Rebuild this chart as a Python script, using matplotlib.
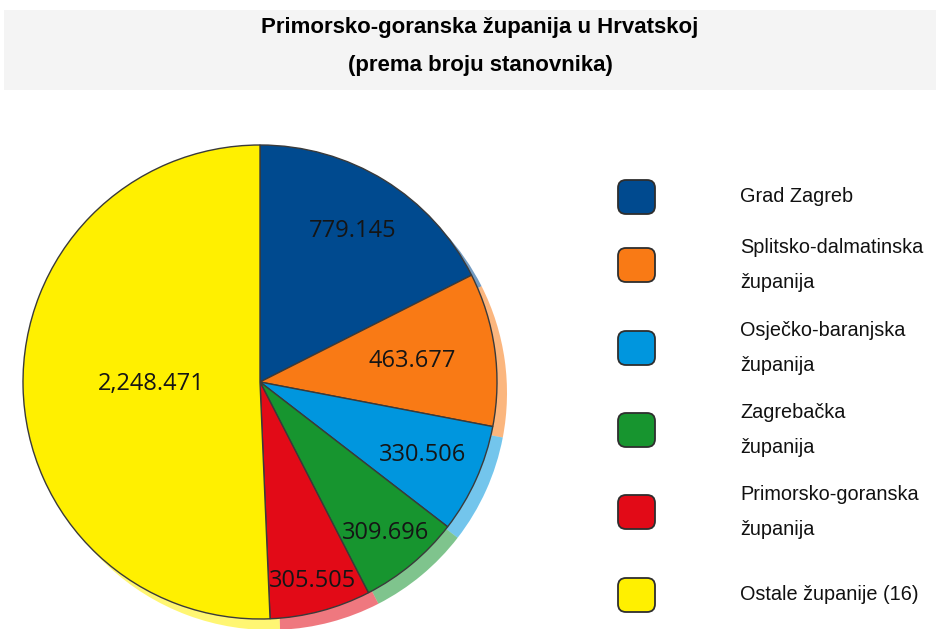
import matplotlib
matplotlib.use("Agg")
import matplotlib.pyplot as plt
from matplotlib.patches import Rectangle, FancyBboxPatch
import numpy as np

# data
regions = ["Grad Zagreb", "Splitsko-dalmatinska\nžupanija", "Osječko-baranjska\nžupanija",
           "Zagrebačka\nžupanija", "Primorsko-goranska\nžupanija", "Ostale županije (16)"]
population = [779145, 463677, 330506, 309696, 305505, 2248471]
value_labels = ["779.145", "463.677", "330.506", "309.696", "305.505", "2,248.471"]
colors = ["#004a8f", "#f97a15", "#0096de", "#17952f", "#e20a17", "#fff000"]

title = "Primorsko-goranska županija u Hrvatskoj"
subtitle = "(prema broju stanovnika)"

W, H = 936, 629
fig = plt.figure(figsize=(W / 100, H / 100), dpi=100)

# background axes in pixel units (title band + legend)
bg = fig.add_axes([0, 0, 1, 1])
bg.set_xlim(0, W)
bg.set_ylim(H, 0)
bg.axis("off")
bg.add_patch(Rectangle((4, 10), W - 4, 80, facecolor="#f4f4f4", edgecolor="none"))
title_font = ["Liberation Sans Narrow", "Liberation Sans", "DejaVu Sans"]
bg.text(480, 28, title, ha="center", va="center", fontsize=16, fontweight="bold",
        family=title_font, color="#000000")
bg.text(480, 66, subtitle, ha="center", va="center", fontsize=16, fontweight="bold",
        family=title_font, color="#000000")

# legend
legend_y = [197, 265, 348, 430, 512, 595]
for lab, col, y in zip(regions, colors, legend_y):
    bg.add_patch(FancyBboxPatch((621, y - 14), 31, 28,
                                boxstyle="round,pad=3,rounding_size=8",
                                facecolor=col, edgecolor="#2e2e2e", linewidth=1.3))
    bg.text(740, y, lab, ha="left", va="center", fontsize=14.3,
            family=["Liberation Sans", "DejaVu Sans"], color="#111111", linespacing=2.1)

# pie
cx, cy, r = 260, 382, 237
pax = fig.add_axes([(cx - r) / W, (H - cy - r) / H, 2 * r / W, 2 * r / H])
pax.patch.set_alpha(0)

# shadow copy, offset down-right
off_x, off_y = 10 / r, -11 / r
shadow, _ = pax.pie(population, colors=colors, startangle=90, counterclock=False,
                    radius=1, center=(off_x, off_y),
                    wedgeprops=dict(linewidth=0, alpha=0.55))
wedges, _ = pax.pie(population, colors=colors, startangle=90, counterclock=False,
                    radius=1, wedgeprops=dict(edgecolor="#3a3a3a", linewidth=1.0))
for w in list(shadow) + list(wedges):
    w.set_clip_on(False)

label_radius = [0.75, 0.65, 0.75, 0.83, 0.87, 0.46]
for w, txt, lr in zip(wedges, value_labels, label_radius):
    ang = np.deg2rad((w.theta1 + w.theta2) / 2)
    pax.text(lr * np.cos(ang), lr * np.sin(ang), txt, ha="center", va="center",
             fontsize=17, family=["Open Sans", "DejaVu Sans"], color="#151515")

pax.set_xlim(-1, 1)
pax.set_ylim(-1, 1)
pax.set_aspect("auto")
pax.axis("off")

fig.savefig("out.png", dpi=100)
